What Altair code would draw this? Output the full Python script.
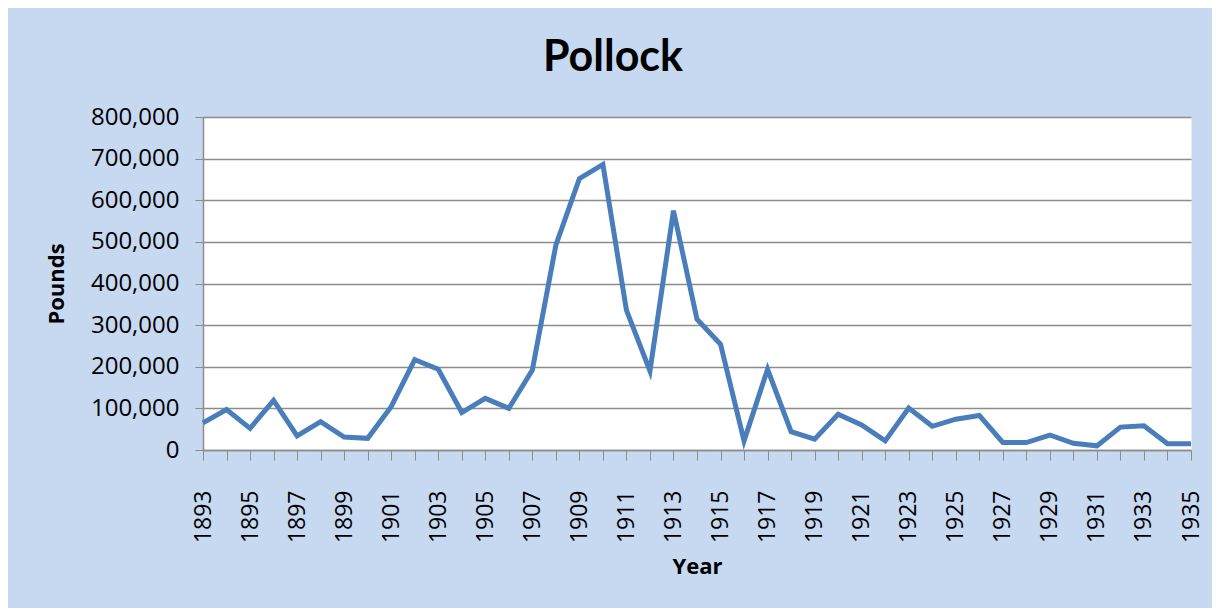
import altair as alt
import pandas as pd

years = list(range(1893, 1936))
pounds = [65000, 97000, 52000, 119000, 34000, 68000, 31000, 28000, 104000, 217000,
          194000, 90000, 124000, 100000, 192000, 492000, 652000, 686000, 336000, 190000,
          575000, 314000, 254000, 22000, 194000, 44000, 26000, 86000, 60000, 22000,
          101000, 57000, 74000, 83000, 18000, 18000, 36000, 16000, 10000, 55000,
          58000, 15000, 15000]
y_ticks = [0, 100000, 200000, 300000, 400000, 500000, 600000, 700000, 800000]

df = pd.DataFrame({"Year": years, "Pounds": pounds})

FONT = "Open Sans"
TFONT = "Lato"
BG = "#C6D9F1"
GRID = "#8C8C8C"

line = alt.Chart(df).mark_line(color="#4A7EBB", strokeWidth=5).encode(
    x=alt.X("Year:Q",
            scale=alt.Scale(domain=[1893, 1935], nice=False, zero=False),
            axis=alt.Axis(title="Year", values=years, format="d",
                          labelExpr="datum.value % 2 == 1 ? datum.label : ''",
                          labelAngle=-90, labelFontSize=23, labelFont=FONT,
                          labelColor="#000000", labelPadding=30,
                          tickSize=10, tickColor=GRID, domainColor=GRID,
                          domainWidth=1.5, grid=False,
                          titleFont=FONT, titleFontSize=22, titleFontWeight="bold",
                          titleColor="#000000", titlePadding=14, labelFlush=False,
                          labelOverlap=False)),
    y=alt.Y("Pounds:Q",
            scale=alt.Scale(domain=[0, 800000], nice=False),
            axis=alt.Axis(title="Pounds", values=y_ticks, format=",d",
                          labelFontSize=24, labelFont=FONT, labelColor="#000000",
                          labelPadding=16, tickSize=8, tickColor=GRID,
                          domainColor=GRID, domainWidth=1.5,
                          grid=True, gridColor=GRID, gridWidth=1.5,
                          titleFont=FONT, titleFontSize=22, titleFontWeight="bold",
                          titleColor="#000000", titlePadding=22)),
)

chart = line.properties(
    width=988,
    height=333,
    autosize=alt.AutoSizeParams(type="none"),
    padding={"left": 195, "top": 109, "right": 21, "bottom": 158},
    background=BG,
    title=alt.TitleParams("Pollock", font=TFONT, fontSize=43, fontWeight="bold",
                          color="#000000", anchor="middle", frame="group",
                          dx=-84, offset=25),
).configure_view(fill="white", stroke="transparent")

chart.save("out.html", embed_options={"renderer": "svg", "actions": False})
